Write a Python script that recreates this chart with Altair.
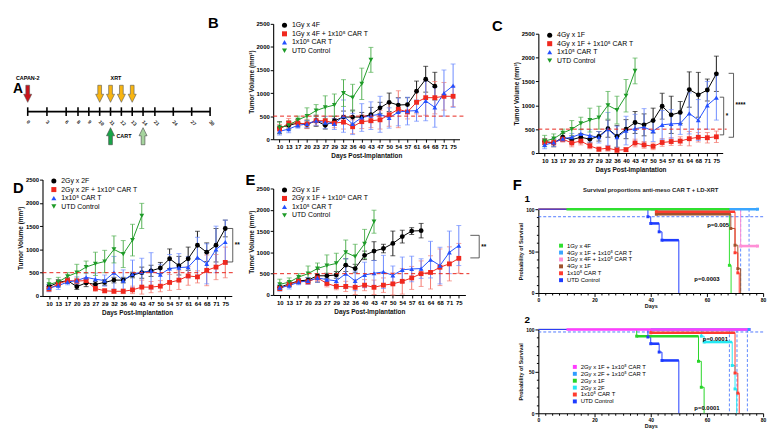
import altair as alt
import pandas as pd

FONT = "Liberation Sans"

# ---------------- Panel A: treatment timeline ----------------
a_days = [0, 3, 6, 8, 9, 10, 11, 12, 13, 14, 21, 24, 27, 30]
capan_days = [0]
xrt_days = [10, 11, 12, 13]
cart_days = [11, 14]
cart_fill = ["#18a548", "#a6d49e"]

# ---------------- Panels B-E: tumour volume ----------------
days = [10, 13, 17, 20, 23, 27, 29, 32, 36, 40, 43, 47, 50, 54, 57, 61, 64, 68, 71, 75]
day_labels = [str(d) for d in days]
y_ticks = [0, 500, 1000, 1500, 2000, 2500]
threshold = [500]

car_name = "1x10⁵ CAR T"
utd_name = "UTD Control"
utd_mean = [250, 300, 420, 500, 620, 690, 740, 1000, 900, 1200, 1720]
utd_err = [120, 100, 80, 180, 130, 250, 240, 290, 290, 340, 270]
car_mean = [170, 220, 300, 330, 400, 360, 330, 500, 330, 470, 510, 540, 460, 590, 610, 620, 830, 690, 1000, 1160]
car_err = [80, 80, 60, 80, 100, 130, 120, 350, 230, 300, 300, 390, 220, 300, 300, 230, 430, 430, 500, 470]

b_names = ["1Gy x 4F", "1Gy x 4F + 1x10⁵ CAR T"]
b_xrt_mean = [250, 300, 350, 320, 400, 300, 400, 480, 480, 480, 530, 680, 800, 740, 750, 1040, 1300, 1150]
b_xrt_err = [130, 80, 80, 80, 120, 80, 100, 130, 150, 100, 160, 120, 200, 160, 150, 220, 280, 300]
b_combo_mean = [220, 350, 350, 330, 400, 400, 350, 370, 270, 380, 400, 420, 530, 650, 590, 800, 900, 900, 930, 930]
b_combo_err = [100, 100, 80, 100, 100, 100, 100, 150, 150, 150, 150, 200, 250, 400, 150, 250, 380, 350, 300, 220]

c_names = ["4Gy x 1F", "4Gy x 1F + 1x10⁵ CAR T"]
c_xrt_mean = [240, 210, 330, 280, 330, 290, 350, 510, 350, 500, 640, 590, 680, 980, 800, 850, 1330, 1220, 1320, 1660]
c_xrt_err = [60, 80, 80, 80, 80, 80, 100, 180, 230, 200, 230, 230, 260, 270, 390, 230, 370, 470, 230, 370]
c_combo_mean = [230, 220, 290, 210, 250, 150, 80, 100, 60, 70, 210, 170, 140, 220, 240, 250, 300, 330, 320, 340]
c_combo_err = [60, 60, 60, 80, 80, 60, 40, 60, 50, 40, 80, 70, 70, 80, 80, 90, 150, 100, 110, 120]
c_brackets = [("****", 1670, 330), ("*", 1170, 380)]

d_names = ["2Gy x 2F", "2Gy x 2F + 1x10⁵ CAR T"]
d_xrt_mean = [200, 290, 330, 200, 280, 250, 290, 340, 340, 450, 500, 540, 600, 800, 650, 800, 1090, 940, 1090, 1450]
d_xrt_err = [40, 60, 60, 60, 80, 60, 60, 60, 60, 60, 120, 120, 120, 210, 200, 250, 300, 200, 360, 180]
d_combo_mean = [150, 260, 330, 320, 330, 160, 110, 100, 100, 130, 190, 190, 210, 290, 340, 430, 410, 550, 620, 720]
d_combo_err = [50, 60, 60, 60, 60, 60, 40, 40, 50, 80, 150, 120, 120, 170, 200, 200, 130, 330, 270, 330]
d_brackets = [("**", 1450, 730)]

e_names = ["2Gy x 1F", "2Gy x 1F + 1x10⁵ CAR T"]
e_xrt_mean = [180, 260, 330, 350, 450, 450, 470, 700, 620, 930, 1030, 1090, 1210, 1370, 1500, 1510]
e_xrt_err = [40, 50, 60, 60, 150, 60, 80, 150, 100, 100, 220, 100, 290, 150, 80, 170]
e_combo_mean = [150, 250, 320, 310, 400, 270, 200, 200, 180, 230, 180, 230, 260, 320, 400, 500, 530, 650, 730, 860]
e_combo_err = [50, 60, 60, 60, 80, 80, 80, 120, 170, 130, 170, 170, 260, 300, 270, 300, 390, 430, 400, 350]
e_brackets = [("**", 1400, 870)]

series_colors = ["#000000", "#f0281e", "#2350ff", "#1e9b28"]
err_colors = ["#1a1a1a", "#f4786e", "#6d8bff", "#52b052"]
shapes = ["circle", "square", "triangle-up", "triangle-down"]

# ---------------- Panel F: survival ----------------
surv_title = "Survival proportions anti-meso CAR T + LD-XRT"
f1_names = ["1Gy x 4F", "4Gy x 1F + 1x10⁵ CAR T", "1Gy x 4F + 1x10⁵ CAR T", "4Gy x 1F", "1x10⁵ CAR T", "UTD Control"]
f1_colors = ["#2fe02f", "#3aa6ff", "#ff8fd6", "#a0522d", "#ff3b2f", "#1e3cff"]
f1_t = [[0, 68, 68.6], [0, 78], [0, 72, 78], [0, 42, 68.5, 70, 71, 72], [0, 42, 70, 71, 71.5], [0, 39, 40, 43, 44, 50]]
f1_s = [[100, 33, 0], [100, 100], [100, 56, 56], [100, 94, 77, 57, 29, 0], [100, 97, 48, 24, 0], [100, 91, 83, 73, 63, 0]]
f1_bands = [("4Gy x 1F + 1x10⁵ CAR T", 40, 78, 100), ("1Gy x 4F", 10, 68, 100), ("4Gy x 1F", 42, 68.5, 94),
            ("1x10⁵ CAR T", 42, 70, 97), ("UTD Control", 40, 43, 83), ("UTD Control", 44, 50, 63),
            ("1Gy x 4F + 1x10⁵ CAR T", 72, 78, 56)]
f1_hline = [91]
f1_vlines = [72, 75]
f1_p = [("p=0.005", 64, 81), ("p=0.0003", 60, 17)]

f2_names = ["2Gy x 1F + 1x10⁵ CAR T", "2Gy x 2F + 1x10⁵ CAR T", "2Gy x 1F", "2Gy x 2F", "1x10⁵ CAR T", "UTD Control"]
f2_colors = ["#ff3cff", "#2e9cff", "#27d427", "#25e8f2", "#ff3b2f", "#1e3cff"]
f2_t = [[0, 75], [0, 75], [0, 35, 57, 58, 59], [0, 58, 59, 69, 70, 70.6], [0, 40, 70, 71, 71.5], [0, 39, 40, 43, 44, 50]]
f2_s = [[100, 100], [100, 100], [100, 92, 62, 31, 0], [100, 92, 85, 57, 29, 0], [100, 96, 48, 24, 0], [100, 91, 83, 73, 63, 0]]
f2_bands = [("2Gy x 2F + 1x10⁵ CAR T", 40, 75, 100), ("2Gy x 1F + 1x10⁵ CAR T", 10, 75, 100), ("2Gy x 1F", 35, 57, 92),
            ("2Gy x 2F", 59, 69, 85), ("1x10⁵ CAR T", 40, 70, 96), ("UTD Control", 40, 43, 83), ("UTD Control", 44, 50, 63)]
f2_hline = [97]
f2_vlines = [68, 70.7, 74.4]
f2_p = [("p=0.0001", 63, 89), ("p=0.0001", 60, 6)]

surv_x_ticks = [i * 2.5 for i in range(33)]
surv_y_ticks = [i * 10 for i in range(11)]

DOWN = "M-0.22,-1L0.22,-1L0.22,0.05L0.47,0.05L0,1L-0.47,0.05L-0.22,0.05Z"
UP = "M-0.22,1L0.22,1L0.22,-0.05L0.47,-0.05L0,-1L-0.47,-0.05L-0.22,-0.05Z"


def text_layer(txt, x, y, size, **kw):
    opts = dict(fontSize=size, fontWeight="bold", font=FONT, color="black", align="left", baseline="top")
    opts.update(kw)
    return alt.Chart(pd.DataFrame({"t": [txt]})).mark_text(**opts).encode(
        text="t:N", x=alt.value(x), y=alt.value(y))


def panel_a():
    xs = alt.Scale(domain=[0, 6, 8, 14, 21, 30], range=[-15, 24, 36, 102, 114, 170], nice=False, zero=False)
    ys = alt.Scale(domain=[-4.57, 7.14], nice=False, zero=False)
    line_df = pd.DataFrame({"a": [a_days[0]], "b": [a_days[-1]], "y": [0]})
    tick_df = pd.DataFrame({"day": a_days, "lab": [str(d) for d in a_days]})
    tick_df["y1"] = -0.35
    tick_df["y2"] = 0.35
    tick_df["yl"] = -0.75
    down_df = pd.DataFrame({"day": capan_days + xrt_days,
                            "fill": ["#c8141c"] * len(capan_days) + ["#f8b511"] * len(xrt_days)})
    down_df["lane"] = 1.45
    up_df = pd.DataFrame({"day": cart_days, "fill": cart_fill})
    up_df["lane"] = -2.0
    lab_df = pd.DataFrame({"t": ["CAPAN-2", "XRT"], "day": [0, 11.5], "lane": [2.75, 2.75]})
    cart_df = pd.DataFrame({"t": ["CART"], "day": [11], "lane": [-2.0]})

    X = lambda f: alt.X(f, scale=xs, axis=None)
    Y = lambda f: alt.Y(f, scale=ys, axis=None)
    timeline = alt.Chart(line_df).mark_rule(color="black", strokeWidth=1.6).encode(x=X("a:Q"), x2="b:Q", y=Y("y:Q"))
    ticks = alt.Chart(tick_df).mark_rule(color="black", strokeWidth=1.6).encode(x=X("day:Q"), y=Y("y1:Q"), y2="y2:Q")
    ticklab = alt.Chart(tick_df).mark_text(angle=45, align="left", baseline="middle", fontSize=5,
                                           fontWeight="bold", font=FONT, color="#222").encode(
        x=X("day:Q"), y=Y("yl:Q"), text="lab:N")
    downs = alt.Chart(down_df).mark_point(shape=DOWN, filled=True, size=300, stroke="#555", strokeWidth=0.6,
                                          opacity=1).encode(x=X("day:Q"), y=Y("lane:Q"),
                                                            fill=alt.Fill("fill:N", scale=None))
    ups = alt.Chart(up_df).mark_point(shape=UP, filled=True, size=300, stroke="#444", strokeWidth=0.6,
                                      opacity=1).encode(x=X("day:Q"), y=Y("lane:Q"),
                                                        fill=alt.Fill("fill:N", scale=None))
    labs = alt.Chart(lab_df).mark_text(fontSize=5.5, fontWeight="bold", font=FONT, color="black").encode(
        x=X("day:Q"), y=Y("lane:Q"), text="t:N")
    cart = alt.Chart(cart_df).mark_text(fontSize=5.5, fontWeight="bold", font=FONT, color="black",
                                        align="left", dx=6).encode(x=X("day:Q"), y=Y("lane:Q"), text="t:N")
    letter_a = text_layer("A", -30, 59, 14)
    letter_b = text_layer("B", 168, -8, 15)
    return alt.layer(timeline, ticks, ticklab, downs, ups, labs, cart, letter_a, letter_b).properties(
        width=170, height=146)


def tumor_panel(names2, series, brackets, bracket_pos, w, h, top_pad, letter_spec):
    names = names2 + [car_name, utd_name]
    rows = []
    for name, (m_list, e_list) in zip(names, series):
        for d, m, e in zip(day_labels, m_list, e_list):
            rows.append({"day": d, "series": name, "mean": m, "lo": max(m - e, 0), "hi": m + e})
    df = pd.DataFrame(rows)
    xenc = alt.X("day:O", sort=day_labels,
                 scale=alt.Scale(type="point", domain=day_labels, padding=0.7),
                 axis=alt.Axis(title="Days Post-Implantation", labelAngle=0, labelFontSize=6, titleFontSize=6.5,
                               tickSize=3, labelPadding=1.5, titlePadding=3))
    yscale = alt.Scale(domain=[0, 2500], nice=False, range=[h, top_pad])
    yaxis = alt.Axis(values=y_ticks, format="d", title="Tumor Volume (mm³)", labelFontSize=6, titleFontSize=6.5,
                     tickSize=3, labelPadding=1, titlePadding=2)
    legend = alt.Legend(title=None, orient="none", legendX=8, legendY=top_pad - 2, labelFontSize=7,
                        labelFont=FONT, labelFontWeight="normal", symbolSize=26, rowPadding=0.6, labelOffset=4,
                        padding=0, symbolStrokeWidth=0)
    cscale = alt.Scale(domain=names, range=series_colors)
    sscale = alt.Scale(domain=names, range=shapes)
    layers = []
    for name, ec in zip(names, err_colors):
        sub = alt.Chart(df[df.series == name])
        layers.append(sub.mark_rule(color=ec, strokeWidth=1).encode(
            x=xenc, y=alt.Y("lo:Q", scale=yscale, axis=yaxis), y2="hi:Q"))
        layers.append(sub.mark_tick(color=ec, size=5, thickness=1).encode(
            x=xenc, y=alt.Y("hi:Q", scale=yscale, axis=yaxis)))
        layers.append(sub.mark_tick(color=ec, size=5, thickness=1).encode(
            x=xenc, y=alt.Y("lo:Q", scale=yscale, axis=yaxis)))
    base = alt.Chart(df)
    layers.append(base.mark_line(strokeWidth=1).encode(
        x=xenc, y=alt.Y("mean:Q", scale=yscale, axis=yaxis),
        color=alt.Color("series:N", scale=cscale, legend=legend)))
    layers.append(base.mark_point(filled=True, size=24, opacity=1).encode(
        x=xenc, y=alt.Y("mean:Q", scale=yscale, axis=yaxis),
        color=alt.Color("series:N", scale=cscale, legend=legend),
        shape=alt.Shape("series:N", scale=sscale, legend=legend)))
    layers.append(alt.Chart(pd.DataFrame({"v": threshold})).mark_rule(
        color="#e8261c", strokeDash=[4, 3], strokeWidth=1).encode(
        y=alt.Y("v:Q", scale=yscale, axis=yaxis), x=alt.value(0), x2=alt.value(w + 4)))
    for (lab, top, bot), (xv, xt) in zip(brackets, bracket_pos):
        bdf = pd.DataFrame({"t": [lab], "top": [top], "bot": [bot], "mid": [(top + bot) / 2]})
        bc = alt.Chart(bdf)
        layers.append(bc.mark_rule(color="#333", strokeWidth=0.8).encode(
            x=alt.value(w + xv), y=alt.Y("top:Q", scale=yscale, axis=yaxis), y2="bot:Q"))
        layers.append(bc.mark_rule(color="#333", strokeWidth=0.8).encode(
            x=alt.value(w + xt), x2=alt.value(w + xv), y=alt.Y("top:Q", scale=yscale, axis=yaxis)))
        layers.append(bc.mark_rule(color="#333", strokeWidth=0.8).encode(
            x=alt.value(w + xt), x2=alt.value(w + xv), y=alt.Y("bot:Q", scale=yscale, axis=yaxis)))
        layers.append(bc.mark_text(align="left", baseline="middle", fontSize=6.5, fontWeight="bold",
                                   font=FONT, color="black", dx=2).encode(
            x=alt.value(w + xv), y=alt.Y("mid:Q", scale=yscale, axis=yaxis), text="t:N"))
    if letter_spec is not None:
        layers.append(text_layer(*letter_spec))
    return alt.layer(*layers).properties(width=w, height=h)


def surv_panel(names, colors, ts, ss, bands, hline, vlines, pvals, leg_xy, num, w, h, with_title):
    line_rows, mark_rows = [], []
    for name, tl, sl in zip(names, ts, ss):
        for i, (t, s) in enumerate(zip(tl, sl)):
            line_rows.append({"series": name, "t": t, "s": s, "i": i})
            if t > 0 and s > 0:
                mark_rows.append({"series": name, "t": t, "s": s})
    ldf = pd.DataFrame(line_rows)
    mdf = pd.DataFrame(mark_rows)
    bdf = pd.DataFrame([{"series": n, "x1": a, "x2": b, "y": y} for n, a, b, y in bands])
    xs = alt.Scale(domain=[0, 80], nice=False)
    ys = alt.Scale(domain=[0, 100], nice=False)
    xaxis = alt.Axis(values=surv_x_ticks, labelExpr="datum.value % 20 === 0 ? datum.label : ''",
                     tickSize={"condition": {"test": "datum.value % 20 === 0", "value": 3.5}, "value": 2},
                     labelOverlap=False, labelFlush=False, title="Days", labelFontSize=5, titleFontSize=5.5,
                     labelPadding=1, titlePadding=1)
    yaxis = alt.Axis(values=surv_y_ticks, labelExpr="datum.value % 50 === 0 ? datum.label : ''",
                     tickSize={"condition": {"test": "datum.value % 50 === 0", "value": 3.5}, "value": 2},
                     labelOverlap=False, labelFlush=False, title="Probability of Survival", labelFontSize=5,
                     titleFontSize=5.5, labelPadding=1, titlePadding=2)
    cscale = alt.Scale(domain=names, range=colors)
    legend = alt.Legend(title=None, orient="none", legendX=leg_xy[0], legendY=leg_xy[1], labelFontSize=6,
                        labelFont=FONT, labelFontWeight="normal", symbolType="square", symbolSize=16,
                        rowPadding=1, labelOffset=3, padding=0, symbolStrokeWidth=0)
    color = alt.Color("series:N", scale=cscale, legend=legend)
    X = lambda f: alt.X(f, scale=xs, axis=xaxis)
    Y = lambda f: alt.Y(f, scale=ys, axis=yaxis)
    layers = []
    layers.append(alt.Chart(pd.DataFrame({"v": hline})).mark_rule(
        color="#3d6bff", strokeDash=[3, 2], strokeWidth=0.9).encode(y=Y("v:Q")))
    layers.append(alt.Chart(pd.DataFrame({"v": vlines})).mark_rule(
        color="#4a7bff", strokeDash=[3, 2], strokeWidth=0.9).encode(x=X("v:Q")))
    layers.append(alt.Chart(ldf).mark_line(interpolate="step-after", strokeWidth=1).encode(
        x=X("t:Q"), y=Y("s:Q"), order="i:Q", color=color))
    layers.append(alt.Chart(bdf).mark_rule(strokeWidth=2.6).encode(
        x=X("x1:Q"), x2="x2:Q", y=Y("y:Q"), color=color))
    layers.append(alt.Chart(mdf).mark_point(shape="square", filled=True, size=9, opacity=1).encode(
        x=X("t:Q"), y=Y("s:Q"), color=color))
    pdf = pd.DataFrame({"t": [p[0] for p in pvals], "x": [p[1] for p in pvals], "y": [p[2] for p in pvals]})
    layers.append(alt.Chart(pdf).mark_text(fontSize=6, fontWeight="bold", font=FONT, color="black").encode(
        x=X("x:Q"), y=Y("y:Q"), text="t:N"))
    layers.append(text_layer(num, -14, -15, 10))
    if with_title:
        layers.append(text_layer("F", -26, -31, 15))
        layers.append(text_layer(surv_title, w / 2, -22, 6, align="center", color="#222"))
    return alt.layer(*layers).properties(width=w, height=h)


def indep(c):
    return c.resolve_scale(color="independent", shape="independent").resolve_legend(
        color="independent", shape="independent")


A = panel_a()
B = tumor_panel(b_names, [(b_xrt_mean, b_xrt_err), (b_combo_mean, b_combo_err), (car_mean, car_err),
                          (utd_mean, utd_err)], [], [], 189, 117, 0, None)
C = tumor_panel(c_names, [(c_xrt_mean, c_xrt_err), (c_combo_mean, c_combo_err), (car_mean, car_err),
                          (utd_mean, utd_err)], c_brackets, [(11, 6), (1, -3)], 187, 131, 10,
                ("C", -47, -5, 15))
D = tumor_panel(d_names, [(d_xrt_mean, d_xrt_err), (d_combo_mean, d_combo_err), (car_mean, car_err),
                          (utd_mean, utd_err)], d_brackets, [(1, -5)], 192, 118, 0, ("D", -30, 2, 15))
E = tumor_panel(e_names, [(e_xrt_mean, e_xrt_err), (e_combo_mean, e_combo_err), (car_mean, car_err),
                          (utd_mean, utd_err)], e_brackets, [(14, 5)], 195, 108, 0, ("E", -28, -16, 15))
F1 = surv_panel(f1_names, f1_colors, f1_t, f1_s, f1_bands, f1_hline, f1_vlines, f1_p, (20, 34), "1", 228, 85, True)
F2 = surv_panel(f2_names, f2_colors, f2_t, f2_s, f2_bands, f2_hline, f2_vlines, f2_p, (34, 35), "2", 228, 85, False)

col1 = indep(alt.vconcat(A, D, spacing=9))
col2 = indep(alt.vconcat(B, E, spacing=14))
col3 = indep(alt.vconcat(C, F1, F2, spacing=6))

chart = indep(alt.hconcat(col1, col2, col3, spacing=5)).configure_view(stroke=None).configure_axis(
    labelFont=FONT, titleFont=FONT, labelFontWeight="bold", titleFontWeight="bold", labelColor="black",
    titleColor="#111", domainColor="black", tickColor="black", domainWidth=1.1, tickWidth=1, grid=False
).configure_legend(labelFont=FONT, labelColor="black").configure_title(font=FONT)

chart.save("out.html", embed_options={"renderer": "svg", "actions": False})
